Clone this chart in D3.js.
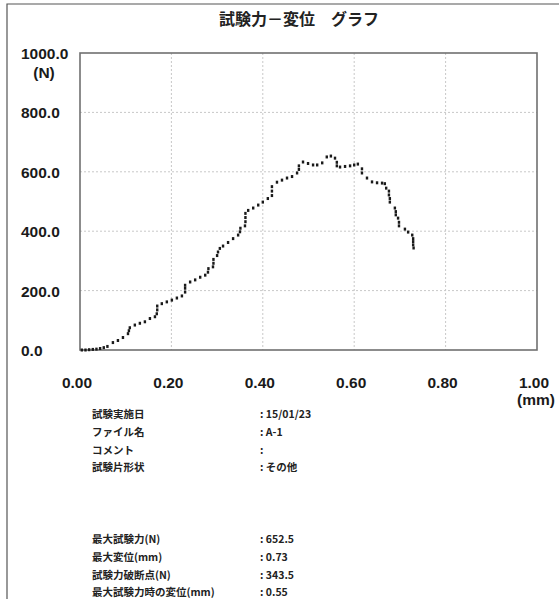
<!DOCTYPE html>
<html>
<head>
<meta charset="utf-8">
<script src="https://cdn.jsdelivr.net/npm/d3@7"></script>
<style>
  body { margin: 0; background: #fff; }
  svg { display: block; }
</style>
</head>
<body>
<div id="chart"></div>
<script>
// displacement (mm) / test force (N)
const DISPLACEMENT = [0.004, 0.012, 0.020, 0.028, 0.036, 0.044, 0.052, 0.060, 0.072, 0.083, 0.094, 0.105, 0.107, 0.109, 0.120, 0.131, 0.142, 0.153, 0.164, 0.168, 0.169, 0.169, 0.179, 0.190, 0.201, 0.212, 0.223, 0.230, 0.230, 0.230, 0.241, 0.252, 0.263, 0.274, 0.280, 0.281, 0.291, 0.292, 0.292, 0.300, 0.302, 0.306, 0.313, 0.324, 0.335, 0.346, 0.350, 0.351, 0.361, 0.362, 0.362, 0.362, 0.368, 0.379, 0.390, 0.400, 0.411, 0.420, 0.420, 0.420, 0.431, 0.442, 0.453, 0.464, 0.475, 0.479, 0.479, 0.488, 0.499, 0.510, 0.519, 0.530, 0.540, 0.549, 0.558, 0.562, 0.562, 0.569, 0.580, 0.591, 0.600, 0.608, 0.617, 0.617, 0.628, 0.639, 0.650, 0.661, 0.667, 0.670, 0.676, 0.676, 0.678, 0.678, 0.689, 0.691, 0.691, 0.696, 0.698, 0.698, 0.711, 0.718, 0.727, 0.729, 0.729, 0.729, 0.730];
const FORCE = [0, 0, 1, 2, 3, 5, 8, 12, 25, 32, 42, 55, 65, 75, 84, 90, 95, 106, 112, 122, 135, 148, 156, 162, 168, 175, 182, 195, 208, 218, 229, 236, 245, 252, 262, 274, 280, 292, 305, 318, 330, 342, 350, 362, 375, 387, 398, 410, 418, 432, 446, 460, 470, 478, 488, 498, 510, 520, 535, 550, 565, 572, 579, 584, 596, 608, 620, 633, 628, 623, 623, 630, 650, 653, 646, 632, 620, 616, 618, 620, 623, 626, 610, 596, 579, 566, 563, 562, 560, 545, 535, 522, 510, 498, 478, 466, 455, 444, 430, 418, 407, 397, 387, 375, 365, 354, 343.5];

const X_TICKS = [0, 0.2, 0.4, 0.6, 0.8, 1.0];
const Y_TICKS = [0, 200, 400, 600, 800, 1000];

const INFO_LABELS = ["試験実施日", "ファイル名", "コメント", "試験片形状"];
const INFO_VALUES = [": 15/01/23", ": A-1", ":", ": その他"];
const RESULT_LABELS = ["最大試験力(N)", "最大変位(mm)", "試験力破断点(N)", "最大試験力時の変位(mm)"];
const RESULT_VALUES = [": 652.5", ": 0.73", ": 343.5", ": 0.55"];

const points = DISPLACEMENT.map((d, i) => ({ d, f: FORCE[i] }));

const draw = () => {
    const width = 559, height = 599;
    const plot = { left: 80, right: 537, top: 53, bottom: 350 };
    const numFont = "'Liberation Sans', Arial, sans-serif";
    const jpFont = "'Noto Sans CJK JP', sans-serif";

    const svg = d3.select("#chart").append("svg")
        .attr("width", width)
        .attr("height", height);

    // page frame (scan edge)
    svg.append("path")
        .attr("d", `M7,${height} V4 H${width}`)
        .attr("fill", "none")
        .attr("stroke", "#555")
        .attr("stroke-width", 1.2);

    svg.append("text")
        .attr("x", 299)
        .attr("y", 25)
        .attr("text-anchor", "middle")
        .attr("font-family", jpFont)
        .attr("font-weight", "bold")
        .attr("font-size", 16)
        .attr("fill", "#222")
        .text("試験力－変位　グラフ");

    const x = d3.scaleLinear().domain([0, 1]).range([plot.left, plot.right]);
    const y = d3.scaleLinear().domain([0, 1000]).range([plot.bottom, plot.top]);

    // grid
    svg.append("g")
        .selectAll("line")
        .data(X_TICKS.slice(1, -1))
        .join("line")
        .attr("x1", d => x(d)).attr("x2", d => x(d))
        .attr("y1", plot.top).attr("y2", plot.bottom)
        .attr("stroke", "#c8c8c8")
        .attr("stroke-dasharray", "2,2");

    svg.append("g")
        .selectAll("line")
        .data(Y_TICKS.slice(1, -1))
        .join("line")
        .attr("x1", plot.left).attr("x2", plot.right)
        .attr("y1", d => y(d)).attr("y2", d => y(d))
        .attr("stroke", "#c8c8c8")
        .attr("stroke-dasharray", "2,2");

    svg.append("rect")
        .attr("x", plot.left)
        .attr("y", plot.top)
        .attr("width", plot.right - plot.left)
        .attr("height", plot.bottom - plot.top)
        .attr("fill", "none")
        .attr("stroke", "#707070")
        .attr("stroke-width", 1.6);

    // tick labels
    const tickText = sel => sel
        .attr("font-family", numFont)
        .attr("font-weight", "bold")
        .attr("font-size", 15.5)
        .attr("fill", "#1a1a1a");

    svg.append("g")
        .selectAll("text")
        .data(Y_TICKS)
        .join("text")
        .attr("x", 21)
        .attr("y", d => y(d) + 6)
        .call(tickText)
        .text(d => d3.format(".1f")(d));

    svg.append("text")
        .attr("x", 44)
        .attr("y", 78)
        .attr("text-anchor", "middle")
        .call(tickText)
        .text("(N)");

    svg.append("g")
        .selectAll("text")
        .data(X_TICKS)
        .join("text")
        .attr("x", d => x(d) - 3)
        .attr("y", 388)
        .attr("text-anchor", "middle")
        .call(tickText)
        .text(d => d3.format(".2f")(d));

    svg.append("text")
        .attr("x", 536)
        .attr("y", 405)
        .attr("text-anchor", "middle")
        .call(tickText)
        .text("(mm)");

    // data markers
    svg.append("g")
        .selectAll("rect")
        .data(points)
        .join("rect")
        .attr("x", p => x(p.d) - 1.2)
        .attr("y", p => y(p.f) - 1.5)
        .attr("width", 2.4)
        .attr("height", 3)
        .attr("fill", "#1a1a1a");

    // info block
    const infoRow = (labels, values, y0) => {
        const g = svg.append("g")
            .attr("font-family", jpFont)
            .attr("font-weight", "bold")
            .attr("font-size", 10.5)
            .attr("fill", "#222");
        g.selectAll(".lbl")
            .data(labels)
            .join("text")
            .attr("class", "lbl")
            .attr("x", 92)
            .attr("y", (d, i) => y0 + i * 17.8)
            .text(d => d);
        g.selectAll(".val")
            .data(values)
            .join("text")
            .attr("class", "val")
            .attr("x", 260)
            .attr("y", (d, i) => y0 + i * 17.8)
            .text(d => d);
    };
    infoRow(INFO_LABELS, INFO_VALUES, 418);
    infoRow(RESULT_LABELS, RESULT_VALUES, 543);
};

window.addEventListener("DOMContentLoaded", draw, { once: true });
</script>
</body>
</html>
